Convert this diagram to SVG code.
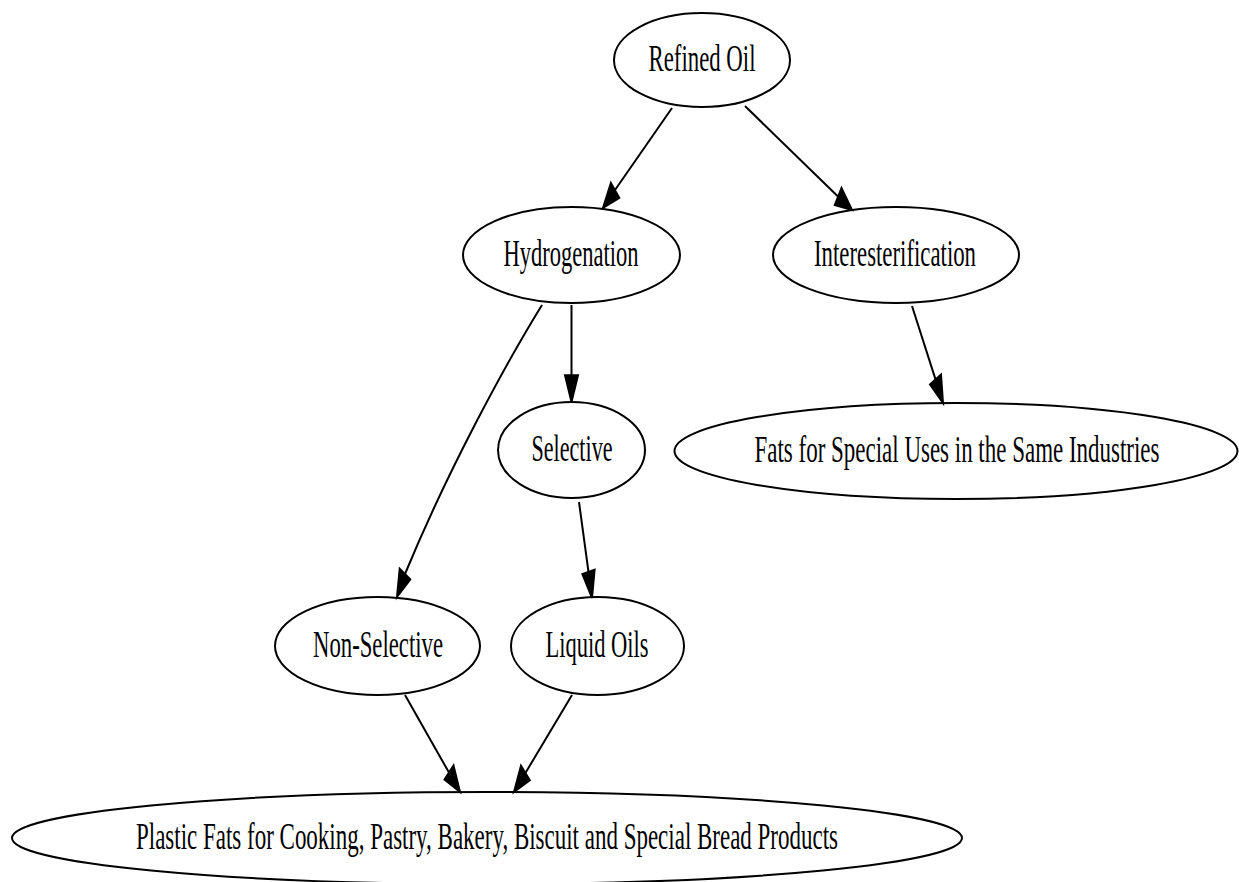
<svg xmlns="http://www.w3.org/2000/svg" width="1239" height="882" viewBox="0 0 1239 882">
<style>
.node ellipse{fill:none;stroke:#000;stroke-width:2}
.node text{font-family:"Liberation Serif","Times New Roman",serif;font-size:22.4px;fill:#000;text-anchor:middle}
.edge path{fill:none;stroke:#000;stroke-width:2}
.edge polygon{fill:#000;stroke:#000;stroke-width:2}
</style>
<rect width="1239" height="882" fill="#fff"/>
<g id="connectors">
<g class="edge" id="e-refined-hydro"><path d="M672,108 L615,190"/><polygon points="603,208 619.3,197.8 610.9,183"/></g>
<g class="edge" id="e-refined-inter"><path d="M745,106 L838,196.5"/><polygon points="852,210 841.5,188 834.8,205"/></g>
<g class="edge" id="e-hydro-sel"><path d="M571.5,305 L571.5,375"/><polygon points="571.5,402 578,375.3 565,375.3"/></g>
<g class="edge" id="e-hydro-nonsel"><path d="M542,305 C505,365 448,470 405,574"/><polygon points="397,597 410.3,579.3 399.7,568.7"/></g>
<g class="edge" id="e-sel-liquid"><path d="M579,502 L588.5,572"/><polygon points="592,598 594.6,569.7 582.4,574.1"/></g>
<g class="edge" id="e-inter-fats"><path d="M912,306 L935.5,379.4"/><polygon points="943,403 941,374.5 930,384.3"/></g>
<g class="edge" id="e-nonsel-plastic"><path d="M405,695 L449,772.6"/><polygon points="460,792 453.5,765.6 444.5,779.6"/></g>
<g class="edge" id="e-liquid-plastic"><path d="M572,695 L525.4,773"/><polygon points="514,792 529.8,780.2 521,765.8"/></g>
</g>
<g class="node" id="refined-oil"><ellipse cx="702" cy="60" rx="88" ry="47"/><text transform="translate(702,71) scale(1,1.667)" textLength="107" lengthAdjust="spacingAndGlyphs">Refined Oil</text></g>
<g class="node" id="hydrogenation"><ellipse cx="571.5" cy="255" rx="108.5" ry="48"/><text transform="translate(571,266) scale(1,1.667)" textLength="135" lengthAdjust="spacingAndGlyphs">Hydrogenation</text></g>
<g class="node" id="interesterification"><ellipse cx="896" cy="255" rx="123" ry="48"/><text transform="translate(895,266) scale(1,1.667)" textLength="162" lengthAdjust="spacingAndGlyphs">Interesterification</text></g>
<g class="node" id="selective"><ellipse cx="571.5" cy="450" rx="73.5" ry="48"/><text transform="translate(572,461) scale(1,1.667)" textLength="81" lengthAdjust="spacingAndGlyphs">Selective</text></g>
<g class="node" id="fats-special"><ellipse cx="956" cy="451" rx="281.5" ry="48"/><text transform="translate(957,462) scale(1,1.667)" textLength="405" lengthAdjust="spacingAndGlyphs">Fats for Special Uses in the Same Industries</text></g>
<g class="node" id="non-selective"><ellipse cx="377.5" cy="646" rx="102.5" ry="49"/><text transform="translate(378,657) scale(1,1.667)" textLength="130" lengthAdjust="spacingAndGlyphs">Non-Selective</text></g>
<g class="node" id="liquid-oils"><ellipse cx="597.5" cy="646" rx="86.5" ry="49"/><text transform="translate(597,657) scale(1,1.667)" textLength="103" lengthAdjust="spacingAndGlyphs">Liquid Oils</text></g>
<g class="node" id="plastic-fats"><ellipse cx="487" cy="838" rx="475" ry="46"/><text transform="translate(487,849) scale(1,1.667)" textLength="702" lengthAdjust="spacingAndGlyphs">Plastic Fats for Cooking, Pastry, Bakery, Biscuit and Special Bread Products</text></g>
</svg>
